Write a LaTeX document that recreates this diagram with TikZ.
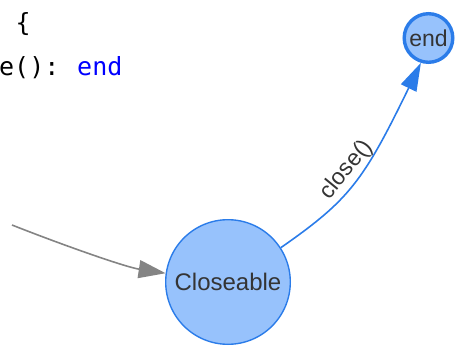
\documentclass[tikz,border=0pt]{standalone}
\usepackage{fontspec}
\setmainfont{Liberation Sans}
\newfontfamily\codefont{DejaVu Sans Mono}
\usetikzlibrary{arrows.meta}

\definecolor{nodefill}{HTML}{97C2FC}
\definecolor{nodeborder}{HTML}{2B7CE9}
\definecolor{nodetext}{HTML}{343434}
\definecolor{edgegray}{HTML}{848484}
\definecolor{kwblue}{HTML}{0000FF}

\begin{document}
\begin{tikzpicture}[x=1pt,y=-1pt,
  statenode/.style={circle, fill=nodefill, draw=nodeborder, text=nodetext,
    inner sep=0pt, font=\fontsize{24}{28}\selectfont},
  codetext/.style={anchor=base west, inner sep=0pt,
    font=\codefont\fontsize{25}{30}\selectfont},
  plainedge/.style={edgegray, line width=1.6pt,
    -{Triangle[length=27pt,width=18pt]}},
  activeedge/.style={nodeborder, line width=1.6pt,
    -{Triangle[length=28pt,width=17pt]}},
  edgelabel/.style={text=nodetext, inner sep=0pt,
    font=\fontsize{23}{27}\selectfont},
]
\useasboundingbox (0,0) rectangle (456,348);
\clip (0,0) rectangle (456,348);

% source listing
\node[codetext] (brace) at (15.5,31.5) {\{};
\node[codetext] (call)  at (-1,75) {e():};
\node[codetext, text=kwblue] (kwend) at (77,75) {end};

% states
\node[statenode, line width=1.4pt, minimum size=124.6pt] (cl) at (228,282) {Closeable};
\node[statenode, line width=3.4pt, minimum size=48.6pt,
      font=\fontsize{23}{27}\selectfont] (en) at (428.5,38) {end};

% incoming transition
\coordinate (src) at (12,225);
\coordinate (k1) at (60,244);
\coordinate (k2) at (125,267);
\draw[plainedge] (src) .. controls (k1) and (k2) .. (cl.172);

% close() transition
\coordinate (c1) at (349,200);
\coordinate (c2) at (363,182);
\draw[activeedge] (cl.33) .. controls (c1) and (c2) .. (en.253);
\node[edgelabel, rotate=50.6] (lbl) at (346.5,170) {close()};
\end{tikzpicture}
\end{document}
